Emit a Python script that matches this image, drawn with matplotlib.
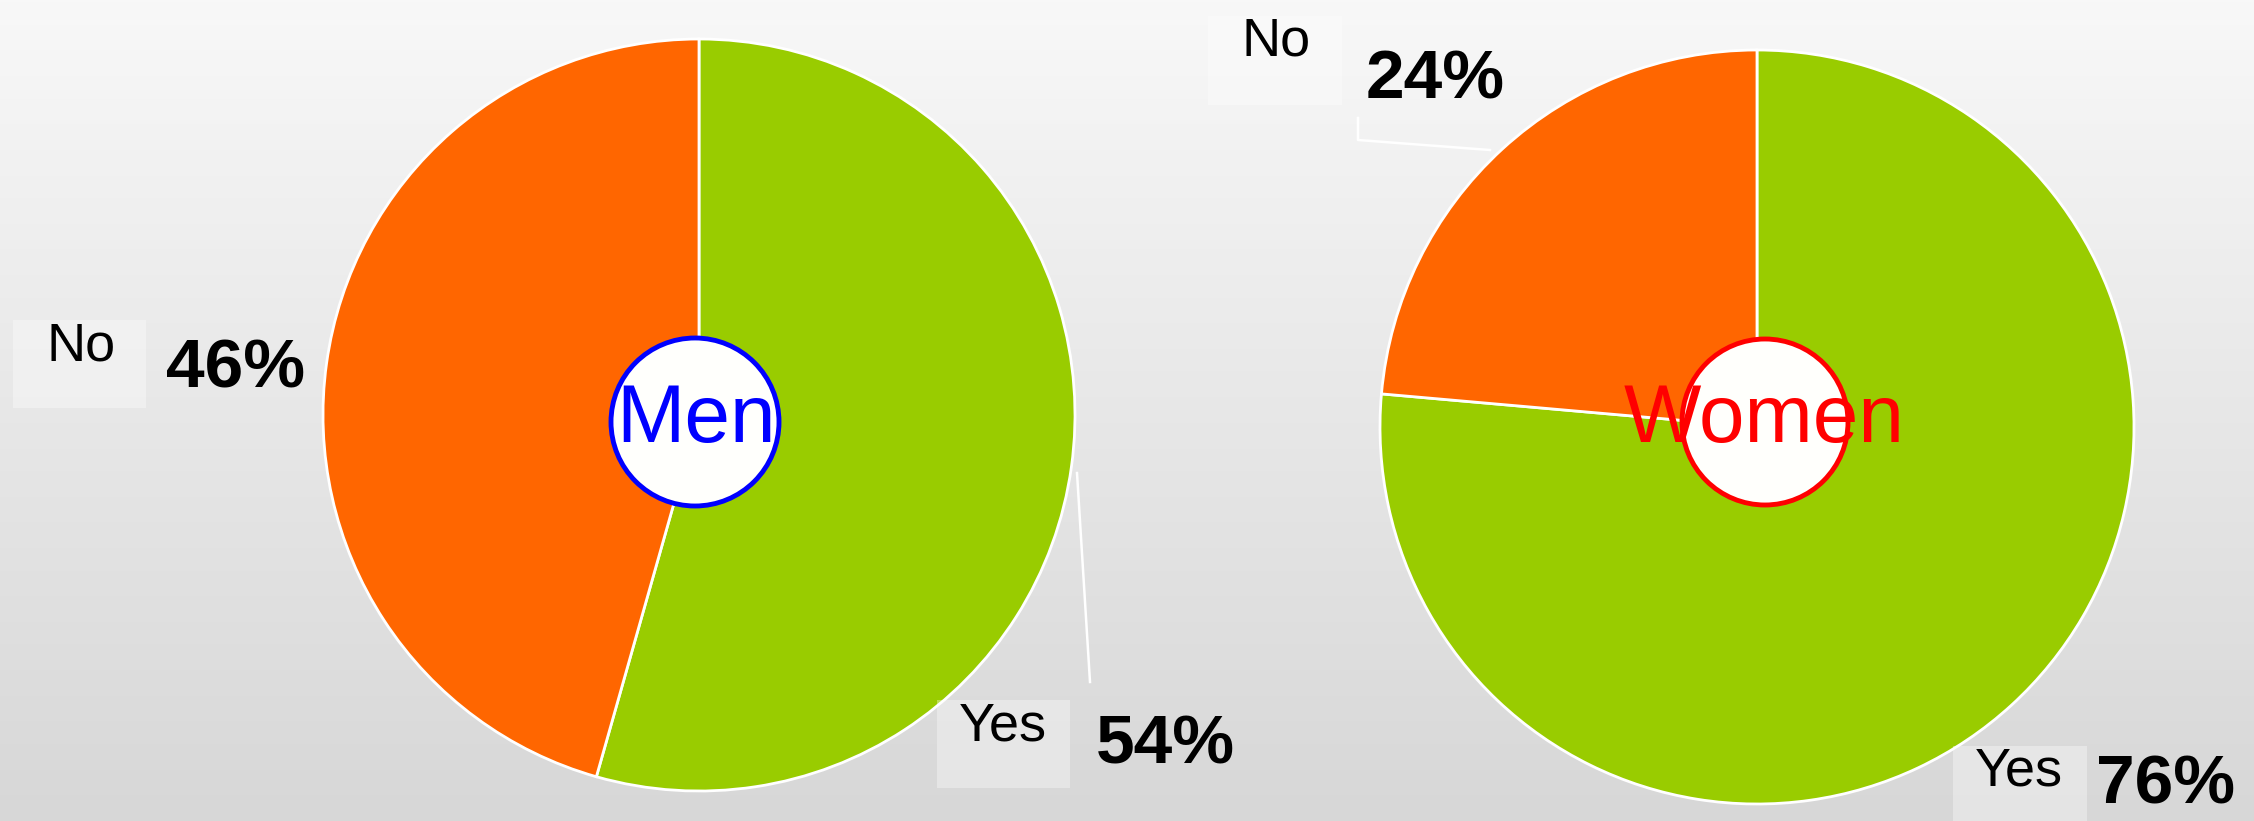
import numpy as np
import matplotlib.pyplot as plt
from matplotlib.patches import Circle, Rectangle

# Dados
answers = ['Yes', 'No']
men = [54.4, 45.6]
women = [76.4, 23.6]
groups = ['Men', 'Women']
colors = ['#99cc00', '#ff6600']

W, H = 2254, 821
fig = plt.figure(figsize=(W / 100, H / 100), dpi=100)

# fundo em degradê
bg = fig.add_axes([0, 0, 1, 1])
grad = np.linspace(0, 1, 256).reshape(-1, 1)
bg.imshow(grad, cmap=plt.matplotlib.colors.LinearSegmentedColormap.from_list(
    'g', ['#f8f8f8', '#d7d7d7']), aspect='auto', extent=[0, 1, 0, 1])
bg.axis('off')

ax = fig.add_axes([0, 0, 1, 1])
ax.patch.set_alpha(0)

def py(y):
    return H - y  # coordenada em pixels a partir do topo

# pizzas
ax.pie(men, colors=colors, startangle=90, counterclock=False,
       center=(699, py(415)), radius=376, frame=True,
       wedgeprops=dict(edgecolor='white', linewidth=2))
ax.pie(women, colors=colors, startangle=90, counterclock=False,
       center=(1757, py(427)), radius=377, frame=True,
       wedgeprops=dict(edgecolor='white', linewidth=2))

# círculos centrais
ax.add_patch(Circle((695, py(422)), 84, facecolor='#fffffc', edgecolor='blue', lw=3.5, zorder=5))
ax.add_patch(Circle((1765, py(422)), 83, facecolor='#fffffc', edgecolor='red', lw=3.5, zorder=5))
ax.text(696, py(442), groups[0], color='blue', fontsize=59, ha='center', va='baseline',
        family='Liberation Sans', zorder=6)
ax.text(1764, py(442), groups[1], color='red', fontsize=59, ha='center', va='baseline',
        family='Liberation Sans', zorder=6)

# linhas de chamada
ax.plot([1077, 1090], [py(473), py(682)], color='white', lw=1.8)
ax.plot([1358, 1358, 1490], [py(118), py(140), py(150)], color='white', lw=1.8)

# rótulos: (caixa x0, y0, x1, y1), centro do nome, linha base do nome, centro %, linha base %
labels = [
    (answers[1], men[1], (13, 320, 146, 408), 81, 360, 236, 387),
    (answers[1], women[1], (1208, 16, 1342, 105), 1276, 55, 1435, 98),
    (answers[0], men[0], (937, 700, 1070, 788), 1003, 740, 1165, 763),
    (answers[0], women[0], (1953, 746, 2087, 840), 2019, 785, 2166, 803),
]
for name, val, box, nx, ny, vx, vy in labels:
    x0, y0, x1, y1 = box
    ax.add_patch(Rectangle((x0, py(y1)), x1 - x0, y1 - y0, facecolor='white',
                           alpha=0.35, edgecolor='none', zorder=3))
    ax.text(nx, py(ny), name, fontsize=39, ha='center', va='baseline',
            family='Liberation Sans', zorder=4)
    ax.text(vx, py(vy), '{:.0f}%'.format(val), fontsize=50, fontweight='bold', ha='center',
            va='baseline', family='Liberation Sans', zorder=4)

ax.set_xlim(0, W)
ax.set_ylim(0, H)
ax.set_aspect('auto')
ax.axis('off')

fig.savefig('out.png', dpi=100)
